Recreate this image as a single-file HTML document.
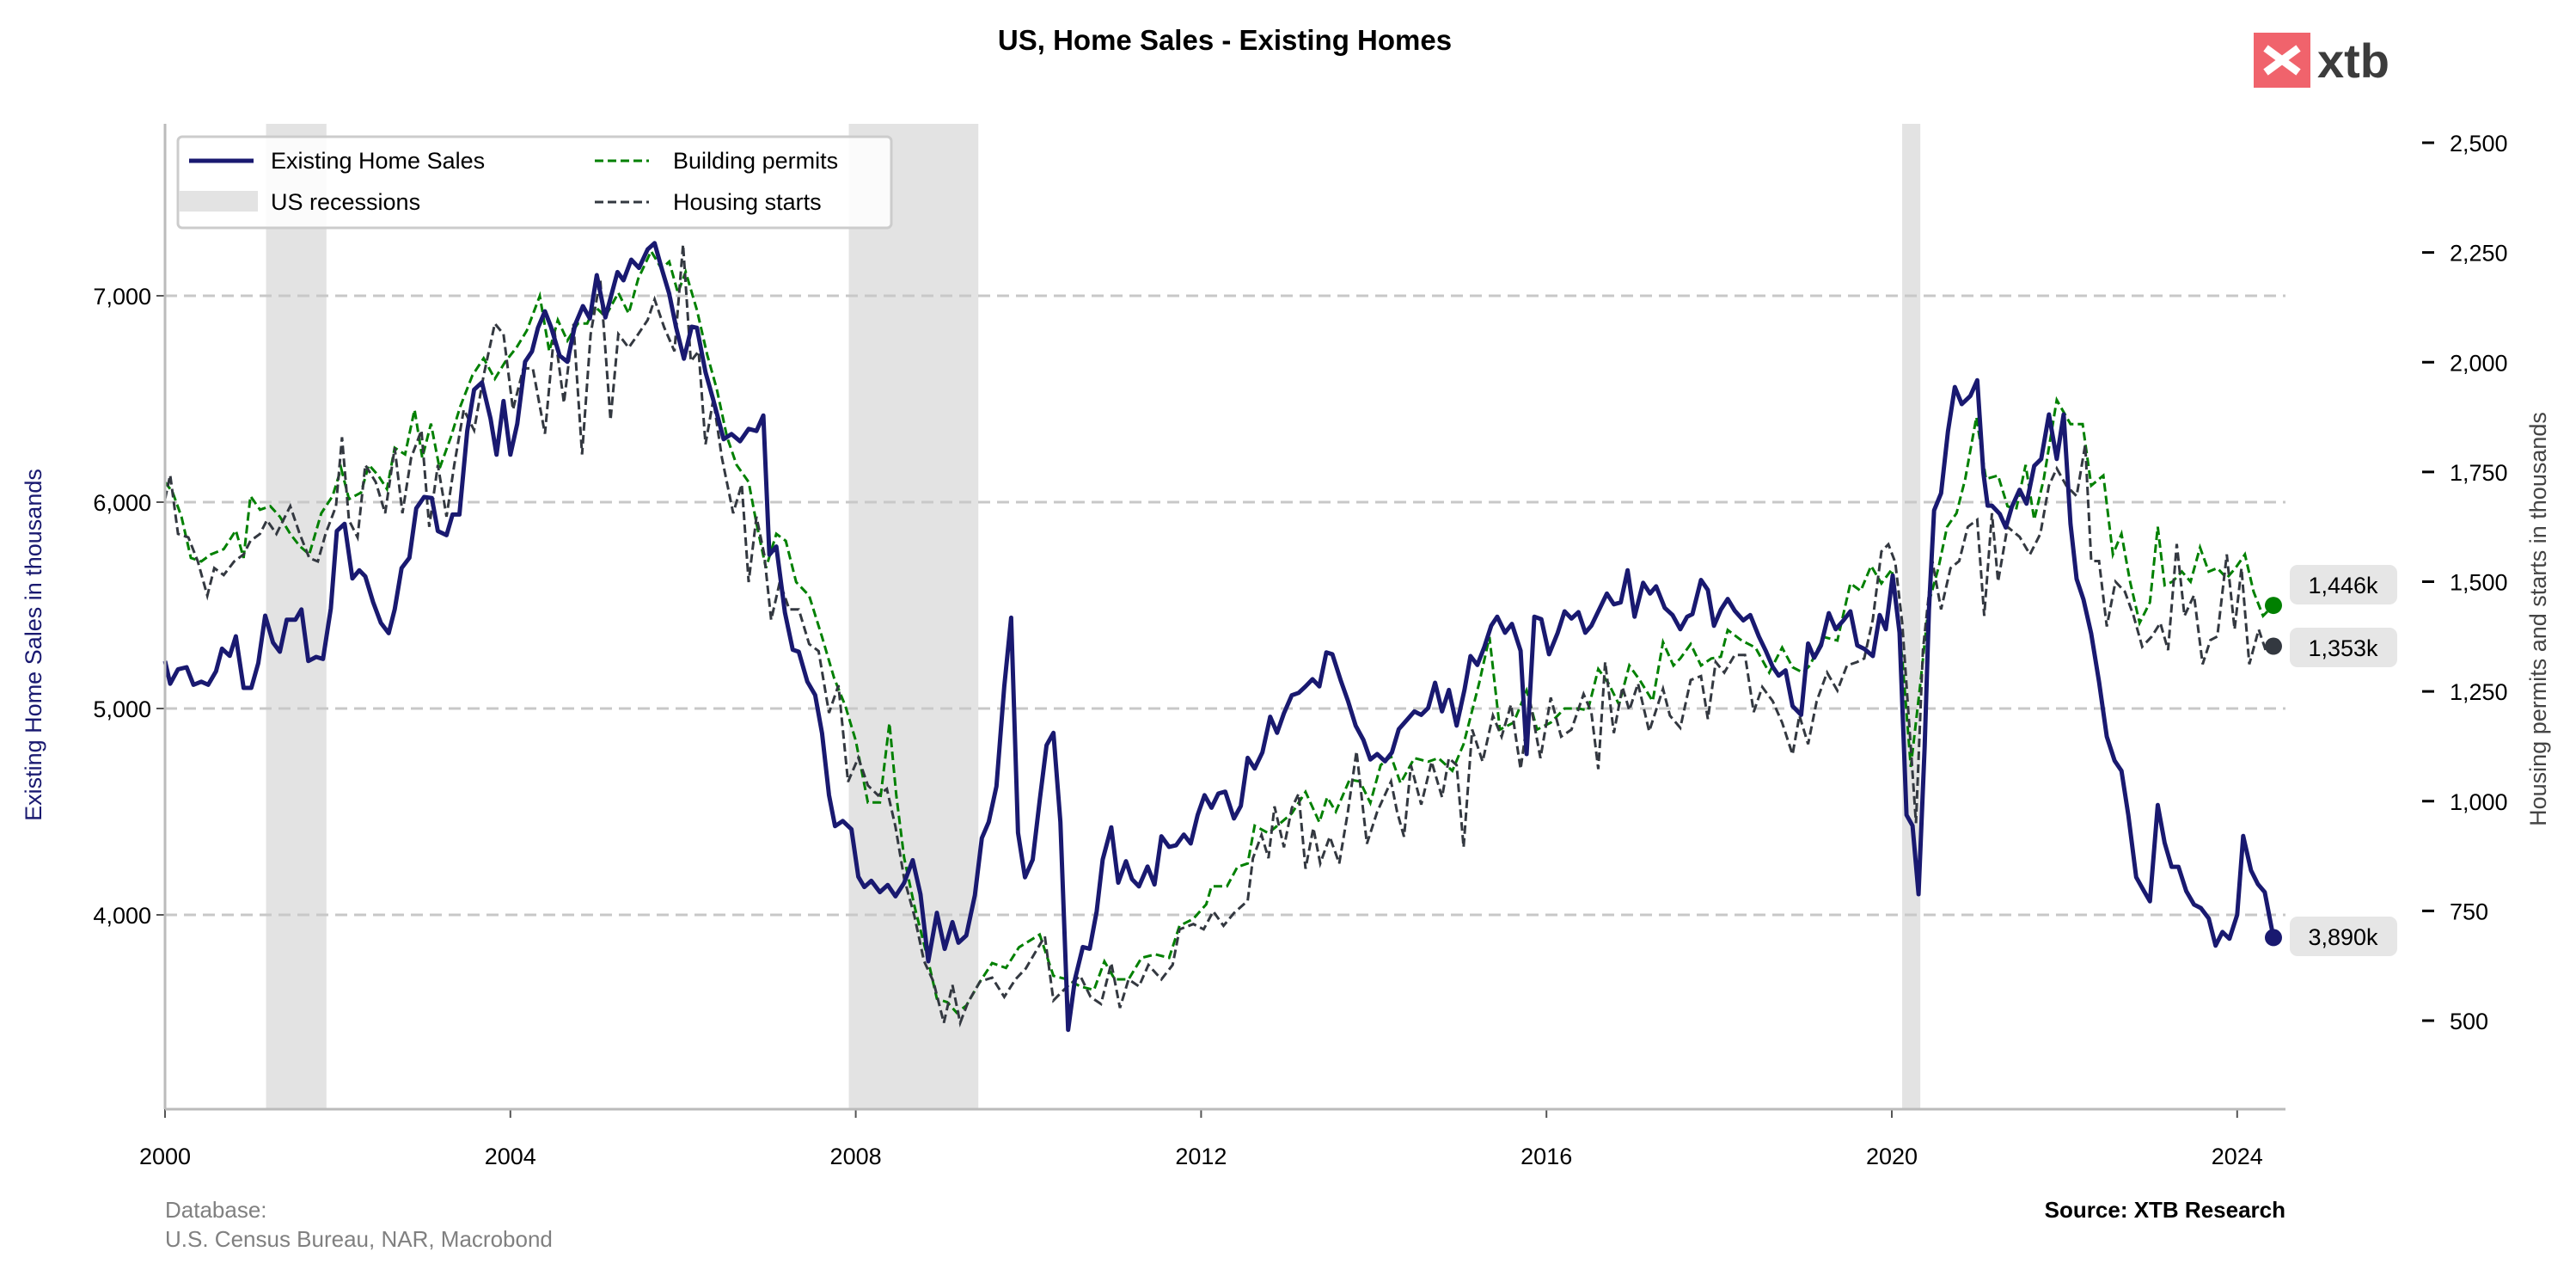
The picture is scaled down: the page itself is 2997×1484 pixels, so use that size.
<!DOCTYPE html>
<html><head><meta charset="utf-8"><style>
html,body{margin:0;padding:0;background:#fff;}
svg{display:block;font-family:"Liberation Sans",Arial,sans-serif;}
</style></head><body>
<svg id="chart" width="2997" height="1484" viewBox="0 0 2997 1484" xmlns="http://www.w3.org/2000/svg">
<text x="1425" y="58" text-anchor="middle" font-size="33" font-weight="bold" fill="#000">US, Home Sales - Existing Homes</text>
<g>
<rect x="2622" y="38" width="66" height="64" fill="#f0636c"/>
<path d="M2636 56 L2674 84 M2674 56 L2636 84" stroke="#fff" stroke-width="9"/>
<text x="2696" y="90" font-size="56" font-weight="bold" fill="#3c3c3c">xtb</text>
</g>
<g id="bands"></g>
<g id="grid"></g>
<g id="series"></g>
<g id="axes"></g>
<text x="192" y="1416" font-size="26" fill="#808080">Database:</text>
<text x="192" y="1450" font-size="26" fill="#808080">U.S. Census Bureau, NAR, Macrobond</text>
<text x="2659" y="1416" text-anchor="end" font-size="26" font-weight="bold" fill="#000">Source: XTB Research</text>
<g>
<rect x="207" y="159" width="830" height="106" rx="5" fill="#fff" fill-opacity="0.85" stroke="#ccc" stroke-width="3"/>
<line x1="220" y1="187" x2="295" y2="187" stroke="#191970" stroke-width="5"/>
<text x="315" y="196" font-size="27">Existing Home Sales</text>
<rect x="208" y="222" width="92" height="24" fill="#e3e3e3"/>
<text x="315" y="244" font-size="27">US recessions</text>
<line x1="692" y1="187" x2="755" y2="187" stroke="#008000" stroke-width="3" stroke-dasharray="10,5"/>
<text x="783" y="196" font-size="27">Building permits</text>
<line x1="692" y1="235" x2="755" y2="235" stroke="#333840" stroke-width="3" stroke-dasharray="10,5"/>
<text x="783" y="244" font-size="27">Housing starts</text>
</g>
</svg>
<script>
const recessionStarts=[2001.17,2007.92,2020.12];
const recessionEnds=[2001.87,2009.42,2020.33];
const leftTicks=[4000,5000,6000,7000];
const leftTickLabels=["4,000","5,000","6,000","7,000"];
const rightTicks=[500,750,1000,1250,1500,1750,2000,2250,2500];
const rightTickLabels=["500","750","1,000","1,250","1,500","1,750","2,000","2,250","2,500"];
const xTicks=[2000,2004,2008,2012,2016,2020,2024];
const salesDates=[0,.06,.15,.25,.33,.42,.5,.59,.66,.75,.82,.91,1.0,1.08,1.16,1.25,1.33,1.41,1.51,1.58,1.66,1.75,1.83,1.92,1.99,2.08,2.17,2.25,2.32,2.41,2.5,2.59,2.66,2.74,2.83,2.91,3.0,3.09,3.16,3.26,3.33,3.41,3.5,3.58,3.67,3.77,3.84,3.92,4.0,4.08,4.17,4.25,4.32,4.4,4.47,4.57,4.66,4.75,4.84,4.92,5.0,5.1,5.24,5.31,5.4,5.49,5.59,5.67,5.75,5.84,5.92,6.01,6.1,6.16,6.26,6.35,6.47,6.56,6.66,6.76,6.85,6.93,7.0,7.08,7.18,7.27,7.34,7.44,7.53,7.61,7.69,7.76,7.85,7.95,8.03,8.1,8.18,8.28,8.37,8.46,8.56,8.66,8.75,8.84,8.94,9.03,9.12,9.19,9.28,9.38,9.46,9.54,9.63,9.72,9.8,9.88,9.96,10.05,10.13,10.21,10.29,10.37,10.46,10.54,10.63,10.71,10.79,10.86,10.96,11.04,11.13,11.2,11.28,11.38,11.46,11.54,11.63,11.71,11.8,11.88,11.96,12.04,12.12,12.2,12.28,12.38,12.46,12.54,12.62,12.71,12.8,12.88,12.96,13.05,13.13,13.21,13.29,13.37,13.45,13.52,13.62,13.7,13.79,13.88,13.96,14.04,14.13,14.21,14.29,14.38,14.47,14.55,14.63,14.71,14.79,14.87,14.96,15.05,15.12,15.2,15.28,15.36,15.43,15.52,15.6,15.7,15.77,15.86,15.94,16.03,16.13,16.21,16.29,16.37,16.45,16.52,16.62,16.7,16.78,16.86,16.94,17.02,17.12,17.2,17.27,17.37,17.46,17.55,17.63,17.69,17.79,17.87,17.94,18.02,18.1,18.18,18.28,18.36,18.46,18.54,18.62,18.69,18.77,18.85,18.95,19.03,19.1,19.18,19.27,19.35,19.44,19.52,19.6,19.68,19.78,19.86,19.93,20.01,20.09,20.17,20.24,20.31,20.38,20.43,20.49,20.57,20.65,20.73,20.81,20.91,20.99,21.06,21.11,21.16,21.25,21.32,21.39,21.48,21.56,21.65,21.73,21.82,21.91,21.99,22.07,22.14,22.22,22.31,22.4,22.49,22.58,22.66,22.74,22.83,22.92,22.99,23.08,23.16,23.24,23.32,23.41,23.5,23.58,23.67,23.75,23.83,23.91,24.0,24.07,24.16,24.24,24.32,24.42];
const salesValues=[5230,5120,5190,5200,5115,5130,5115,5180,5290,5255,5350,5100,5100,5220,5450,5320,5275,5430,5430,5480,5230,5250,5240,5485,5860,5895,5630,5670,5640,5515,5415,5365,5480,5680,5730,5970,6025,6020,5860,5840,5940,5940,6345,6545,6580,6405,6230,6490,6230,6380,6680,6730,6845,6925,6850,6710,6680,6860,6950,6890,7100,6895,7115,7075,7175,7135,7225,7255,7135,7010,6845,6695,6850,6845,6630,6495,6305,6330,6295,6355,6345,6420,5745,5785,5465,5285,5275,5130,5065,4880,4580,4430,4455,4415,4185,4135,4165,4110,4145,4090,4155,4265,4100,3775,4010,3835,3965,3865,3900,4095,4372,4450,4623,5107,5440,4398,4182,4268,4554,4822,4882,4450,3443,3689,3844,3836,4017,4268,4424,4156,4260,4173,4138,4234,4147,4381,4329,4337,4389,4346,4484,4580,4519,4588,4597,4467,4528,4761,4709,4787,4960,4882,4977,5064,5076,5107,5142,5107,5272,5263,5133,5038,4917,4848,4753,4779,4744,4787,4900,4943,4986,4969,5003,5125,4986,5090,4917,5090,5254,5211,5298,5401,5445,5367,5410,5280,4779,5445,5433,5263,5367,5471,5436,5467,5367,5401,5488,5557,5505,5514,5670,5445,5609,5557,5592,5488,5453,5384,5445,5457,5623,5574,5401,5479,5531,5474,5427,5453,5349,5280,5202,5159,5185,5012,4969,5315,5246,5306,5462,5384,5427,5471,5306,5289,5254,5453,5384,5644,5367,4484,4432,4100,4814,5478,5960,6043,6342,6558,6475,6515,6591,6143,5983,5983,5943,5877,5977,6060,5993,6176,6209,6425,6209,6425,5894,5628,5528,5362,5129,4864,4747,4698,4482,4183,4116,4066,4532,4349,4233,4233,4116,4050,4033,3983,3851,3917,3884,4000,4382,4216,4149,4110,3890];
const permitDates=[0,.09,.19,.3,.42,.53,.68,.82,.91,.99,1.1,1.22,1.33,1.45,1.56,1.67,1.81,1.94,2.04,2.13,2.27,2.36,2.47,2.57,2.66,2.78,2.89,2.98,3.08,3.18,3.31,3.42,3.56,3.69,3.82,3.94,4.07,4.19,4.34,4.45,4.55,4.66,4.78,4.89,4.98,5.1,5.25,5.37,5.48,5.63,5.75,5.84,5.94,6.03,6.16,6.28,6.39,6.51,6.62,6.76,6.85,6.96,7.08,7.19,7.31,7.46,7.61,7.75,7.88,8.0,8.14,8.28,8.39,8.47,8.56,8.68,8.83,8.94,9.06,9.17,9.28,9.44,9.58,9.74,9.89,10.13,10.29,10.45,10.6,10.76,10.88,11.0,11.16,11.31,11.47,11.63,11.75,11.91,12.06,12.12,12.3,12.42,12.54,12.62,12.78,12.93,13.05,13.21,13.37,13.46,13.56,13.72,13.84,13.96,14.08,14.2,14.31,14.47,14.63,14.75,14.91,15.04,15.22,15.34,15.46,15.62,15.77,15.89,16.05,16.21,16.37,16.48,16.6,16.72,16.84,16.96,17.08,17.23,17.35,17.47,17.55,17.67,17.79,17.91,18.02,18.1,18.26,18.42,18.58,18.73,18.85,18.97,19.05,19.21,19.37,19.52,19.64,19.76,19.88,20.0,20.12,20.22,20.33,20.43,20.54,20.64,20.75,20.85,20.98,21.09,21.23,21.34,21.44,21.55,21.65,21.76,21.91,22.07,22.21,22.31,22.45,22.56,22.66,22.76,22.87,22.99,23.08,23.16,23.25,23.36,23.46,23.57,23.67,23.77,23.88,23.98,24.09,24.19,24.3,24.42];
const permitValues=[1727,1703,1648,1554,1546,1562,1574,1617,1554,1695,1664,1672,1648,1609,1581,1562,1656,1695,1758,1688,1703,1766,1742,1711,1805,1790,1892,1782,1860,1758,1829,1899,1970,2009,1962,2001,2033,2072,2151,2025,2096,2049,2088,2088,2127,2104,2158,2111,2190,2253,2213,2229,2158,2206,2119,2017,1939,1829,1766,1727,1633,1531,1609,1593,1499,1468,1374,1280,1217,1138,997,997,1178,1013,871,761,644,550,542,518,534,589,631,620,667,696,602,594,578,570,635,594,594,643,651,643,716,732,765,806,806,850,858,944,927,952,972,1021,952,1009,976,1049,1045,996,1082,1102,1041,1098,1090,1098,1069,1130,1268,1374,1163,1179,1252,1163,1179,1211,1211,1207,1301,1268,1220,1309,1276,1228,1362,1309,1325,1358,1309,1325,1329,1390,1366,1350,1293,1350,1305,1293,1309,1374,1366,1496,1479,1536,1496,1528,1325,1078,1266,1453,1531,1625,1656,1734,1875,1734,1742,1672,1664,1766,1641,1734,1914,1859,1859,1719,1742,1562,1609,1500,1406,1453,1625,1492,1500,1523,1500,1578,1523,1531,1508,1531,1562,1477,1422,1446];
const startDates=[0,.06,.15,.27,.38,.49,.57,.68,.8,.91,.99,1.1,1.18,1.29,1.45,1.56,1.67,1.77,1.86,1.98,2.05,2.13,2.23,2.32,2.44,2.55,2.66,2.75,2.85,2.97,3.06,3.16,3.26,3.35,3.46,3.58,3.69,3.82,3.92,4.03,4.15,4.26,4.4,4.51,4.62,4.73,4.83,4.93,5.04,5.16,5.25,5.37,5.48,5.59,5.67,5.78,5.9,6.0,6.09,6.18,6.26,6.35,6.45,6.58,6.68,6.76,6.85,6.94,7.02,7.12,7.23,7.34,7.46,7.57,7.69,7.8,7.91,8.03,8.14,8.26,8.36,8.46,8.56,8.68,8.79,8.9,9.02,9.12,9.21,9.3,9.44,9.58,9.72,9.85,9.97,10.09,10.19,10.29,10.45,10.6,10.72,10.84,10.96,11.06,11.16,11.28,11.39,11.54,11.67,11.75,11.91,12.03,12.14,12.26,12.38,12.54,12.6,12.7,12.78,12.85,12.96,13.05,13.13,13.21,13.3,13.38,13.49,13.6,13.7,13.8,13.92,14.04,14.2,14.27,14.35,14.43,14.55,14.67,14.79,14.87,14.96,15.04,15.14,15.26,15.38,15.48,15.59,15.7,15.81,15.93,16.05,16.17,16.29,16.43,16.52,16.6,16.68,16.78,16.88,16.96,17.06,17.19,17.35,17.43,17.55,17.67,17.79,17.87,17.96,18.06,18.18,18.3,18.4,18.5,18.62,18.73,18.85,18.93,19.03,19.13,19.25,19.37,19.48,19.6,19.68,19.78,19.88,19.96,20.04,20.12,20.22,20.28,20.36,20.47,20.57,20.68,20.78,20.88,20.99,21.07,21.16,21.23,21.34,21.48,21.6,21.72,21.82,21.91,22.02,22.14,22.24,22.31,22.4,22.49,22.59,22.7,22.8,22.9,23.01,23.11,23.2,23.3,23.39,23.5,23.6,23.69,23.77,23.88,23.97,24.05,24.14,24.25,24.33,24.42];
const startValues=[1688,1743,1609,1601,1546,1468,1531,1515,1546,1562,1593,1609,1640,1609,1672,1609,1554,1546,1609,1672,1829,1640,1601,1766,1727,1656,1805,1656,1782,1845,1625,1766,1648,1766,1892,1845,1970,2088,2064,1892,1986,1986,1837,2072,1907,2088,1790,2064,2190,1868,2064,2033,2064,2096,2143,2080,2025,2268,2002,2025,1813,1915,1782,1656,1722,1499,1648,1562,1413,1499,1437,1437,1358,1342,1201,1264,1044,1099,1036,1013,1028,942,824,738,636,589,495,581,495,542,589,598,554,594,619,659,692,546,578,602,554,538,631,529,594,578,627,594,627,708,720,708,749,716,745,773,870,923,870,988,895,984,1017,846,939,858,919,858,976,1114,903,976,1045,976,919,1082,992,1090,1009,1098,1082,895,1163,1090,1195,1147,1220,1073,1228,1098,1236,1147,1163,1244,1203,1073,1317,1155,1260,1207,1268,1159,1256,1195,1167,1276,1285,1187,1317,1293,1333,1333,1203,1260,1228,1179,1106,1195,1130,1228,1293,1252,1309,1317,1325,1414,1569,1585,1544,1406,1122,950,1344,1547,1437,1531,1547,1625,1641,1422,1656,1500,1625,1602,1562,1609,1719,1758,1719,1695,1812,1547,1547,1398,1500,1477,1422,1352,1375,1406,1344,1586,1422,1469,1312,1367,1375,1562,1391,1531,1312,1391,1344,1353];
const endLabels=["1,446k","1,353k","3,890k"];

const NS="http://www.w3.org/2000/svg";
const X0=192,X1=2659,YT=144,YB=1290;
function xs(t){return X0+(t>1000?t-2000:t)*100.45;}
function yl(v){return 344+(7000-v)*0.24;}
function yr(v){return 166+(2500-v)*0.5105;}
function mk(tag,attrs,parent){const e=document.createElementNS(NS,tag);for(const k in attrs)e.setAttribute(k,attrs[k]);parent.appendChild(e);return e;}
const bands=document.getElementById('bands'),grid=document.getElementById('grid'),ser=document.getElementById('series'),axes=document.getElementById('axes');
recessionStarts.forEach((s,i)=>{
  const r=mk('rect',{x:xs(s),y:YT,width:xs(recessionEnds[i])-xs(s),height:YB-YT,fill:'#e3e3e3'},bands);
  
  
});
leftTicks.forEach((v,i)=>{
  const g=mk('line',{x1:X0,x2:X1,y1:yl(v),y2:yl(v),stroke:'#c8c8c8','stroke-width':3,'stroke-dasharray':'14,8'},grid);
  
  
  mk('line',{x1:X0-10,x2:X0,y1:yl(v),y2:yl(v),stroke:'#555','stroke-width':2},axes);
  const t=mk('text',{x:X0-16,y:yl(v)+10,'text-anchor':'end','font-size':27,fill:'#000'},axes);
  t.textContent=leftTickLabels[i];
  
  
});
rightTicks.forEach((v,i)=>{
  mk('line',{x1:2818,x2:2832,y1:yr(v),y2:yr(v),stroke:'#000','stroke-width':3},axes);
  const t=mk('text',{x:2850,y:yr(v)+10,'font-size':27,fill:'#000'},axes);
  t.textContent=rightTickLabels[i];
  
  
});
xTicks.forEach(y=>{
  mk('line',{x1:xs(y),x2:xs(y),y1:YB,y2:YB+10,stroke:'#555','stroke-width':2},axes);
  const t=mk('text',{x:xs(y),y:1354,'text-anchor':'middle','font-size':27,fill:'#000'},axes);
  t.textContent=String(y);
  
  
});
mk('line',{x1:X0,x2:X0,y1:YT,y2:YB,stroke:'#bbb','stroke-width':3},axes);
mk('line',{x1:X0,x2:X1,y1:YB,y2:YB,stroke:'#bbb','stroke-width':3},axes);
const lt=mk('text',{x:0,y:0,transform:'translate(48,750) rotate(-90)','text-anchor':'middle','font-size':27,fill:'#191970'},axes);
lt.textContent='Existing Home Sales in thousands';


const rt=mk('text',{x:0,y:0,transform:'translate(2962,720) rotate(-90)','text-anchor':'middle','font-size':27,fill:'#444'},axes);
rt.textContent='Housing permits and starts in thousands';


function path(d,v,yf){return d.map((t,i)=>(i?'L':'M')+xs(t).toFixed(1)+' '+yf(v[i]).toFixed(1)).join(' ');}
const pp=mk('path',{d:path(permitDates,permitValues,yr),fill:'none',stroke:'#008000','stroke-width':3,'stroke-dasharray':'10,5'},ser);


const sp=mk('path',{d:path(startDates,startValues,yr),fill:'none',stroke:'#333840','stroke-width':3,'stroke-dasharray':'10,5'},ser);


const hp=mk('path',{d:path(salesDates,salesValues,yl),fill:'none',stroke:'#191970','stroke-width':5,'stroke-linejoin':'round'},ser);


const ends=[
 [permitDates[permitDates.length-1],yr(permitValues[permitValues.length-1]),'#008000'],
 [startDates[startDates.length-1],yr(startValues[startValues.length-1]),'#333840'],
 [salesDates[salesDates.length-1],yl(salesValues[salesValues.length-1]),'#191970']];
const labelY=[680,753,1089];
ends.forEach((e,i)=>{
  const c=mk('circle',{cx:xs(e[0]),cy:e[1],r:10,fill:e[2]},ser);
  
  
  const b=mk('rect',{x:2664,y:labelY[i]-23,width:125,height:46,rx:9,fill:'#e6e6e6'},ser);
  
  
  const t=mk('text',{x:2726,y:labelY[i]+10,'text-anchor':'middle','font-size':27,fill:'#000'},ser);
  t.textContent=endLabels[i];
  
  
});
</script>
</body></html>
